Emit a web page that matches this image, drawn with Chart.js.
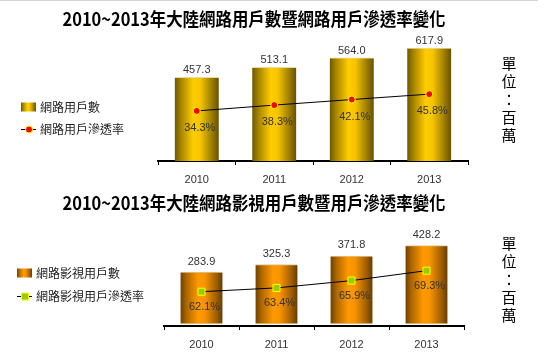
<!DOCTYPE html>
<html><head><meta charset="utf-8">
<script src="https://cdn.jsdelivr.net/npm/chart.js@4.4.0/dist/chart.umd.min.js"></script>
<style>
html,body{margin:0;padding:0;background:#fff;width:544px;height:361px;overflow:hidden;}
.wrap{position:absolute;left:0;width:544px;}
#topline{position:absolute;left:0;top:0;width:538px;height:1px;background:#d4d4d4;}
</style></head><body>
<div id="topline"></div>
<div class="wrap" style="top:0;height:190px"><canvas id="c1" width="544" height="190"></canvas></div>
<div class="wrap" style="top:180px;height:181px"><canvas id="c2" width="544" height="181"></canvas></div>
<script>
// ---- data ----
const years = ['2010', '2011', '2012', '2013'];
const netUsers = [457.3, 513.1, 564.0, 617.9];
const netRate = [34.3, 38.3, 42.1, 45.8];
const videoUsers = [283.9, 325.3, 371.8, 428.2];
const videoRate = [62.1, 63.4, 65.9, 69.3];
const title1 = '2010~2013年大陸網路用戶數暨網路用戶滲透率變化';
const title2 = '2010~2013年大陸網路影視用戶數暨用戶滲透率變化';
const barLabel1 = '網路用戶數';
const lineLabel1 = '網路用戶滲透率';
const barLabel2 = '網路影視用戶數';
const lineLabel2 = '網路影視用戶滲透率';
const unitChars = ['單', '位', '：', '百', '萬'];

const CJK = '"Noto Sans CJK TC", "Noto Sans CJK SC", sans-serif';
const LAT = '"Liberation Sans", Arial, sans-serif';

function addStops(g, stops) { stops.forEach(s => g.addColorStop(s[0], s[1])); return g; }

function makeChart(id, o) {
  const barGrad = (ctx) => {
    const ch = ctx.chart, xs = ch.scales && ch.scales.x;
    if (!xs || ctx.dataIndex === undefined) return o.stops[2][1];
    const cx = xs.getPixelForValue(ctx.dataIndex);
    if (!isFinite(cx)) return o.stops[2][1];
    return addStops(ch.ctx.createLinearGradient(cx - o.barW / 2, 0, cx + o.barW / 2, 0), o.stops);
  };
  const deco = {
    id: 'deco',
    afterDatasetsDraw(chart) {
      const c = chart.ctx;
      c.save();
      c.fillStyle = '#333';
      c.font = '11px ' + LAT;
      c.textAlign = 'center';
      c.textBaseline = 'middle';
      const bm = chart.getDatasetMeta(0), lm = chart.getDatasetMeta(1);
      bm.data.forEach((b, i) => {
        c.fillText(o.bars[i].toFixed(1), b.x, b.y - o.valOff);
      });
      lm.data.forEach((p, i) => {
        c.fillText(o.line[i].toFixed(1) + '%', p.x + 3, p.y + o.pctOff);
      });
      // title (slightly condensed bold)
      c.fillStyle = '#000';
      c.font = 'bold 18px ' + CJK;
      const tw = c.measureText(o.title).width;
      c.save();
      c.translate(o.titleX, o.titleY);
      c.scale(o.titleW / tw, 1);
      c.fillText(o.title, 0, 0);
      c.restore();
      // legend
      const lx = o.legX;
      c.fillStyle = addStops(c.createLinearGradient(lx, 0, lx + 15, 0), o.stops);
      c.fillRect(lx, o.legY1 - 4.5, 15, 9);
      c.strokeStyle = '#000';
      c.lineWidth = 1;
      c.beginPath();
      c.moveTo(lx, o.legY2 + 0.5); c.lineTo(lx + 15, o.legY2 + 0.5); c.stroke();
      c.fillStyle = o.ptFill; c.strokeStyle = '#ffff00';
      c.beginPath();
      if (o.ptStyle === 'circle') {
        c.arc(lx + 8, o.legY2 + 0.5, o.ptR, 0, Math.PI * 2);
      } else {
        c.rect(lx + 8 - 3.5, o.legY2 + 0.5 - 3.5, 7, 7);
      }
      c.fill(); c.stroke();
      c.fillStyle = '#222';
      c.font = '12px ' + CJK;
      c.textAlign = 'left';
      c.fillText(o.barLabel, lx + 19, o.legY1);
      c.fillText(o.lineLabel, lx + 19, o.legY2);
      // unit
      c.fillStyle = '#000';
      c.font = '15px ' + CJK;
      c.textAlign = 'center';
      unitChars.forEach((ch, i) => c.fillText(ch, 509, o.unitY + i * 18));
      c.restore();
    }
  };
  return new Chart(document.getElementById(id), {
    data: {
      labels: years,
      datasets: [
        {
          type: 'bar', label: o.barLabel, data: o.bars, yAxisID: 'y', order: 2,
          backgroundColor: barGrad, borderColor: o.cap,
          borderWidth: o.capW, borderSkipped: false,
          barThickness: o.barW, clip: false
        },
        {
          type: 'line', label: o.lineLabel, data: o.line, yAxisID: 'y2', order: 1,
          borderColor: '#000', borderWidth: 1, tension: 0,
          pointStyle: o.ptStyle, pointRadius: o.ptStyle === 'circle' ? o.ptR : 5,
          pointBackgroundColor: o.ptFill, pointBorderColor: '#ffff00', pointBorderWidth: 1,
          clip: false
        }
      ]
    },
    options: {
      responsive: false, animation: false, devicePixelRatio: 1,
      layout: { padding: o.pad },
      plugins: { legend: { display: false }, tooltip: { enabled: false }, title: { display: false } },
      scales: {
        x: {
          type: 'category', offset: true,
          grid: { display: true, drawOnChartArea: false, drawTicks: true, tickLength: 4, color: '#000', offset: true },
          border: { display: true, color: '#000', width: 2 },
          ticks: { color: '#333', font: { family: LAT, size: 11 }, padding: 8 },
          afterFit: (s) => { s.height = 29; }
        },
        y: { display: false, min: o.yMin, max: o.yMax },
        y2: { display: false, position: 'right', min: o.y2Min, max: o.y2Max }
      }
    },
    plugins: [deco]
  });
}

const goldStops = [[0, '#6f5800'], [0.15, '#a88700'], [0.42, '#ffcc00'], [0.58, '#f6c500'], [0.85, '#9a7b00'], [1, '#665100']];
const orangeStops = [[0, '#6e4100'], [0.15, '#b06800'], [0.42, '#ff9900'], [0.58, '#f79400'], [0.85, '#a15f00'], [1, '#663c00']];

makeChart('c1', {
  bars: netUsers, line: netRate, title: title1, barLabel: barLabel1, lineLabel: lineLabel1,
  stops: goldStops, cap: '#e8dc9a', capW: { top: 1, bottom: 0, left: 0, right: 0 },
  barW: 44, pad: { left: 158, right: 76, top: 30, bottom: 0 },
  yMin: 0, yMax: 131 / 0.1828, y2Min: 0, y2Max: 131 / 1.46,
  valOff: 7, pctOff: 17, ptStyle: 'circle', ptR: 3.5, ptFill: '#ff0000',
  titleX: 254, titleY: 19, titleW: 383, legX: 21, legY1: 107, legY2: 129, unitY: 63
});
makeChart('c2', {
  bars: videoUsers, line: videoRate, title: title2, barLabel: barLabel2, lineLabel: lineLabel2,
  stops: orangeStops, cap: '#e3c48c', capW: { top: 1, bottom: 1, left: 0, right: 0 },
  barW: 42, pad: { left: 164, right: 80, top: 30, bottom: 6 },
  yMin: -2 / 0.183, yMax: 116 / 0.183 - 2 / 0.183, y2Min: 50.34, y2Max: 90.1,
  valOff: 10.5, pctOff: 15, ptStyle: 'rect', ptR: 5, ptFill: '#99cc00',
  titleX: 254, titleY: 23, titleW: 383, legX: 17, legY1: 273 - 180, legY2: 296 - 180, unitY: 63
});
</script>
</body></html>
